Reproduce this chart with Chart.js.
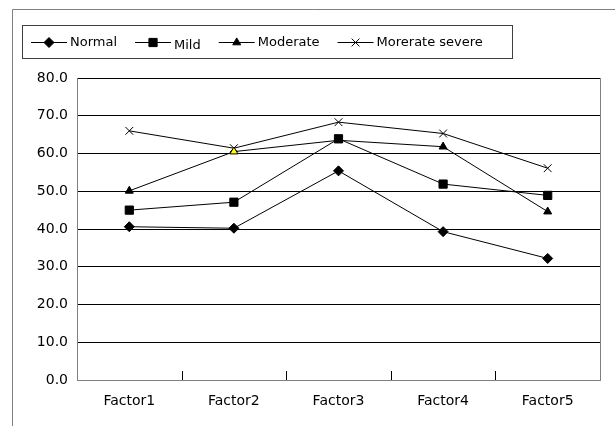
<!DOCTYPE html>
<html lang="en">
<head>
<meta charset="UTF-8">
<title>Factors by severity</title>
<script src="https://cdn.jsdelivr.net/npm/chart.js"></script>
<style>
  html, body { margin: 0; padding: 0; background: #fff; }
  #wrap { width: 615px; height: 426px; }
</style>
</head>
<body>
<div id="wrap"><canvas id="chart" width="615" height="426"></canvas></div>
<script>
    const factors = ["Factor1", "Factor2", "Factor3", "Factor4", "Factor5"]
    const normal = [40.6, 40.2, 55.4, 39.3, 32.2]
    const mild = [45.0, 47.1, 63.9, 51.9, 48.9]
    const moderate = [50.1, 60.5, 63.5, 61.8, 44.6]
    const severe = [66.0, 61.4, 68.3, 65.3, 56.1]
    const yMin = 0, yMax = 80, yStep = 10

    const FONT = '"DejaVu Sans", sans-serif'

    // grey frame round the whole chart (cut off at right and bottom)
    const framePlugin = {
        id: 'frame',
        beforeDraw(chart) {
            const ctx = chart.ctx
            ctx.save()
            ctx.fillStyle = '#fff'
            ctx.fillRect(0, 0, chart.width, chart.height)
            ctx.strokeStyle = '#808080'
            ctx.lineWidth = 1
            ctx.beginPath()
            ctx.moveTo(12.5, chart.height)
            ctx.lineTo(12.5, 9.5)
            ctx.lineTo(chart.width, 9.5)
            ctx.stroke()
            ctx.restore()
        },
        beforeDatasetsDraw(chart) {
            const ctx = chart.ctx
            const a = chart.chartArea
            const xs = chart.scales.x
            ctx.save()
            ctx.strokeStyle = '#808080'
            ctx.lineWidth = 1
            ctx.beginPath()
            ctx.moveTo(Math.round(a.right) + 0.5, a.top)
            ctx.lineTo(Math.round(a.right) + 0.5, a.bottom)
            ctx.stroke()
            // category boundary ticks pointing up into the plot
            ctx.strokeStyle = '#000'
            ctx.beginPath()
            for (let i = 1; i < factors.length; i++) {
                const bx = Math.round((xs.getPixelForValue(i - 1) + xs.getPixelForValue(i)) / 2) + 0.5
                ctx.moveTo(bx, a.bottom - 9)
                ctx.lineTo(bx, a.bottom)
            }
            ctx.stroke()
            ctx.restore()
        }
    }

    // legend box: line with marker, then label
    const legendPlugin = {
        id: 'lineLegend',
        afterDraw(chart) {
            const ctx = chart.ctx
            const cy = 42.5
            ctx.save()
            ctx.strokeStyle = '#404040'
            ctx.lineWidth = 1
            ctx.strokeRect(22.5, 25.5, 490, 33)
            ctx.font = '13px ' + FONT
            ctx.textBaseline = 'middle'
            let x = 31
            chart.data.datasets.forEach(ds => {
                ctx.strokeStyle = '#000'
                ctx.lineWidth = 1
                ctx.beginPath()
                ctx.moveTo(x, cy)
                ctx.lineTo(x + 36, cy)
                ctx.stroke()
                ctx.fillStyle = '#000'
                Chart.helpers.drawPoint(ctx, {
                    pointStyle: ds.pointStyle,
                    radius: ds.pointRadius,
                    borderWidth: 1,
                    rotation: 0
                }, x + 18, cy)
                ctx.fillStyle = '#000'
                const dy = ds.label === 'Mild' ? 3 : 0
                ctx.fillText(ds.label, x + 39, cy + dy)
                x += 39 + ctx.measureText(ds.label).width + 18
            })
            ctx.restore()
        }
    }

    function line(label, data, style, radius, fills) {
        return {
            label: label,
            data: data,
            borderColor: '#000',
            borderWidth: 1,
            tension: 0,
            pointStyle: style,
            pointRadius: radius,
            pointBorderColor: '#000',
            pointBorderWidth: 1,
            pointBackgroundColor: fills || '#000'
        }
    }

    new Chart(document.getElementById('chart'), {
        type: 'line',
        data: {
            labels: factors,
            datasets: [
                line('Normal', normal, 'rectRot', 5),
                line('Mild', mild, 'rect', 5.8),
                line('Moderate', moderate, 'triangle', 4.6, ['#000', '#ffff00', '#000', '#000', '#000']),
                line('Morerate severe', severe, 'crossRot', 5.5)
            ]
        },
        options: {
            responsive: false,
            animation: false,
            layout: { padding: { top: 78, right: 15, left: 0, bottom: 0 } },
            plugins: {
                legend: { display: false },
                tooltip: { enabled: false }
            },
            scales: {
                x: {
                    offset: true,
                    grid: { display: false, drawTicks: false },
                    border: { color: '#808080', width: 1 },
                    ticks: { color: '#000', font: { family: FONT, size: 14 }, padding: 13, maxRotation: 0 },
                    afterFit(s) { s.height = 46 }
                },
                y: {
                    min: yMin,
                    max: yMax,
                    grid: { color: '#000', lineWidth: 1, drawTicks: false },
                    border: { color: '#808080', width: 1 },
                    ticks: {
                        stepSize: yStep,
                        color: '#000',
                        font: { family: FONT, size: 14 },
                        padding: 9,
                        callback: v => v.toFixed(1)
                    },
                    afterFit(s) { s.width = 77 }
                }
            }
        },
        plugins: [framePlugin, legendPlugin]
    })
</script>
</body>
</html>
